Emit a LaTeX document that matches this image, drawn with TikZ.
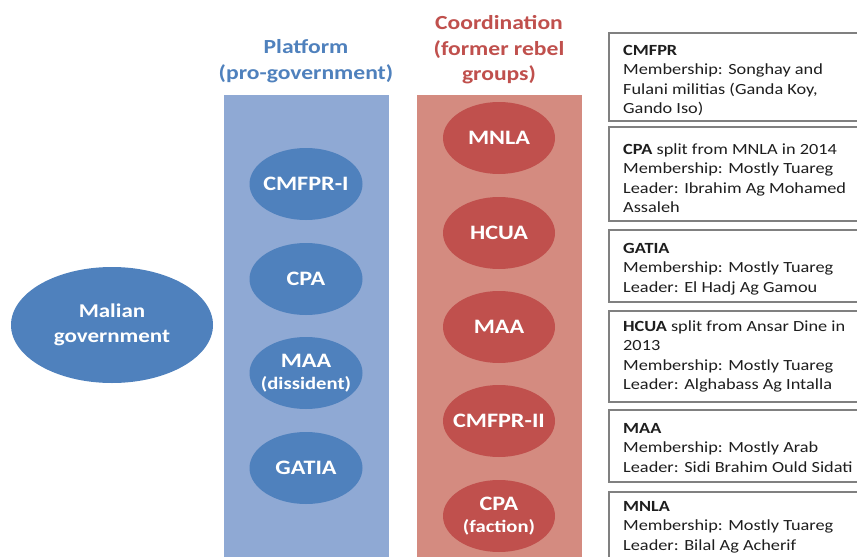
\documentclass[tikz,border=0pt]{standalone}
\usepackage{fontspec}
\setmainfont[FakeStretch=1.18]{Carlito}
\usetikzlibrary{shapes.geometric}
\definecolor{bpanel}{HTML}{8FA9D4}
\definecolor{bell}{HTML}{4F81BD}
\definecolor{rpanel}{HTML}{D48B80}
\definecolor{rell}{HTML}{C0504D}
\definecolor{boxline}{HTML}{808080}
\definecolor{boxtext}{HTML}{1E1E1E}
\tikzset{
  bellipse/.style={ellipse, fill=bell, draw=none, minimum width=113pt, minimum height=72pt, inner sep=-12pt, text=white, align=center, font=\bfseries\fontsize{20.5}{22}\selectfont},
  rellipse/.style={ellipse, fill=rell, draw=none, minimum width=112pt, minimum height=72pt, inner sep=-12pt, text=white, align=center, font=\bfseries\fontsize{20.5}{22}\selectfont},
  infobox/.style={draw=boxline, line width=2.5pt, fill=white},
  infotext/.style={anchor=north west, inner sep=0pt, align=left, text=boxtext, font=\fontsize{15.5}{19.4}\selectfont},
  title/.style={align=center, font=\bfseries\fontsize{20}{25.5}\selectfont}
}
\newcommand{\fl}{\rule{0pt}{12pt}}
\begin{document}
\begin{tikzpicture}[x=1pt,y=-1pt]
\useasboundingbox (0,0) rectangle (857,557);
\fill[white] (0,0) rectangle (857,557);
% panels
\fill[bpanel] (224,95) rectangle (389,565);
\fill[rpanel] (417,95) rectangle (582,565);
% titles
\node[title, text=bell] (tplat) at (306,61) {Platform\\(pro-government)};
\node[title, text=rell] (tcoord) at (499,50) {Coordination\\(former rebel\\groups)};
% government
\node[ellipse, fill=bell, minimum width=202pt, minimum height=116pt, inner sep=-12pt, text=white, align=center, font=\bfseries\fontsize{19.5}{25}\selectfont] (gov) at (112,325) {Malian\\government};
% platform
\node[bellipse] (p1) at (306,184) {CMFPR-I};
\node[bellipse] (p2) at (306,279) {CPA};
\node[bellipse] (p3) at (306,373) {MAA\\{\fontsize{17.5}{19}\selectfont(dissident)}};
\node[bellipse] (p4) at (306,468) {GATIA};
% coordination
\node[rellipse] (c1) at (499,138) {MNLA};
\node[rellipse] (c2) at (499,233) {HCUA};
\node[rellipse] (c3) at (499,327) {MAA};
\node[rellipse] (c4) at (499,421) {CMFPR-II};
\node[rellipse] (c5) at (499,516) {CPA\\{\fontsize{17.5}{21}\selectfont(faction)}};
% info boxes
\draw[infobox] (609,33) rectangle (875,121);
\draw[infobox] (609,127) rectangle (875,221);
\draw[infobox] (609,230) rectangle (875,302);
\draw[infobox] (609,311) rectangle (875,402);
\draw[infobox] (609,410) rectangle (875,482);
\draw[infobox] (609,492) rectangle (875,575);
\node[infotext] (i1) at (623,43) {\fl\textbf{CMFPR}\\Membership: Songhay and\\Fulani militias (Ganda Koy,\\Gando Iso)};
\node[infotext] (i2) at (623,142) {\fl\textbf{CPA} split from MNLA in 2014\\Membership: Mostly Tuareg\\Leader: Ibrahim Ag Mohamed\\Assaleh};
\node[infotext] (i3) at (623,241) {\fl\textbf{GATIA}\\Membership: Mostly Tuareg\\Leader: El Hadj Ag Gamou};
\node[infotext] (i4) at (623,319) {\fl\textbf{HCUA} split from Ansar Dine in\\2013\\Membership: Mostly Tuareg\\Leader: Alghabass Ag Intalla};
\node[infotext] (i5) at (623,421) {\fl\textbf{MAA}\\Membership: Mostly Arab\\Leader: Sidi Brahim Ould Sidati};
\node[infotext] (i6) at (623,499) {\fl\textbf{MNLA}\\Membership: Mostly Tuareg\\Leader: Bilal Ag Acherif};
\end{tikzpicture}
\end{document}
